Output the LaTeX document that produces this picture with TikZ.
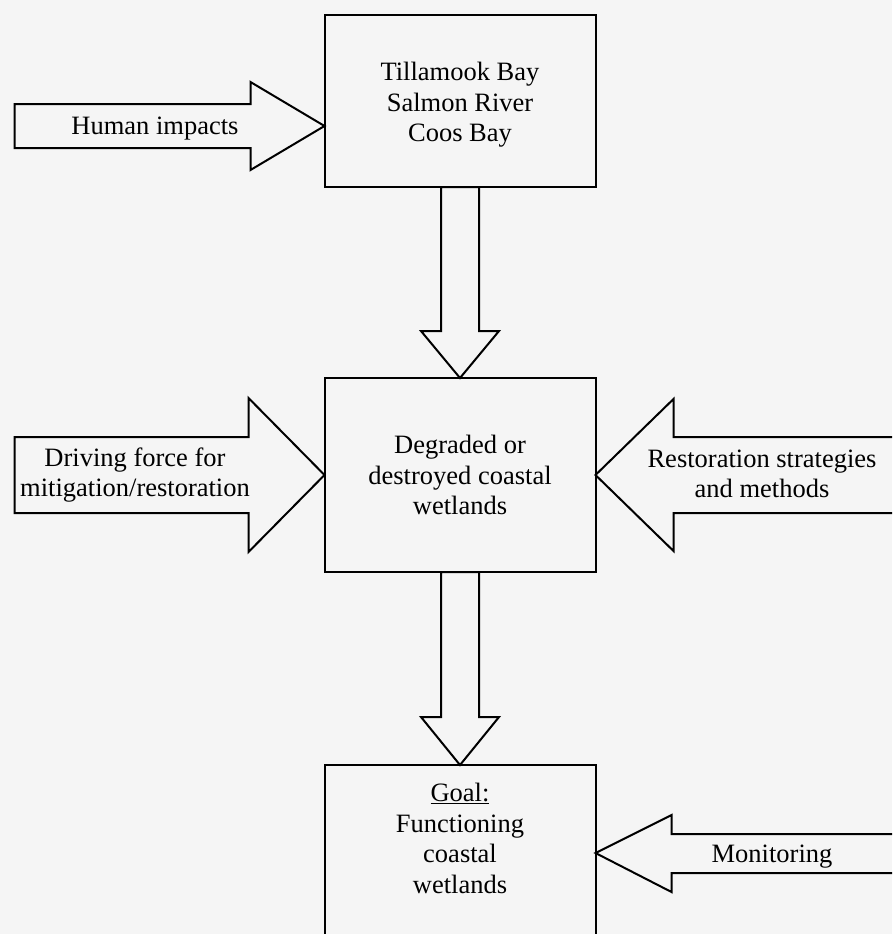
\documentclass[tikz,border=0pt]{standalone}
\usepackage{fontspec}
\setmainfont{Liberation Serif}
\usetikzlibrary{positioning,calc}

\begin{document}
\begin{tikzpicture}[
  x=1pt, y=-1pt,
  font=\fontsize{26.5}{30.5}\selectfont,
  box/.style={draw=black, line width=2pt, minimum width=271pt,
    align=center, inner sep=0pt, outer sep=0pt},
  fat/.style={draw=black, line width=2pt, line join=miter},
  lbl/.style={align=center, inner sep=0pt}
]
\useasboundingbox (0,0) rectangle (892,934);
\fill[black!4] (0,0) rectangle (892,934);
\clip (0,0) rectangle (892,934);
\node[box, minimum height=172pt] (site) at (460,101) {};
\node[lbl] (sitetxt) at ($(site.center)+(0,4)$) {Tillamook Bay\\Salmon River\\Coos Bay};
\node[box, minimum height=194pt, below=191pt of site] (deg) {Degraded or\\destroyed coastal\\wetlands};
\node[box, minimum height=230pt, below=193pt of deg] (goal) {};
\node[lbl, anchor=north] (goaltxt) at ($(goal.north)+(0,18)$) {\underline{Goal:}\\Functioning\\coastal\\wetlands};
\node[lbl] (human) at (155,129) {Human impacts};
\node[lbl] (drive) at (135,475) {Driving force for\\mitigation/restoration};
\node[lbl] (restore) at (762,474) {Restoration strategies\\and methods};
\node[lbl] (monitor) at (772,857) {Monitoring};
\draw[fat] (deg.north) -- ++(-39,-47) -- ++(20,0) -- ($(site.south)+(-19,0)$) -- ++(38,0) -- ($(deg.north)+(19,-47)$) -- ++(20,0) -- cycle;
\draw[fat] (goal.north) -- ++(-39,-48) -- ++(20,0) -- ($(deg.south)+(-19,0)$) -- ++(38,0) -- ($(goal.north)+(19,-48)$) -- ++(20,0) -- cycle;
\draw[fat] ($(site.west)+(0,25)$) -- ++(-74,-44) -- ++(0,22) -- ++(-236,0) -- ++(0,44) -- ++(236,0) -- ++(0,22) -- cycle;
\draw[fat] (deg.west) -- ++(-76,-77) -- ++(0,39) -- ++(-234,0) -- ++(0,76) -- ++(234,0) -- ++(0,39) -- cycle;
\draw[fat] (deg.east) -- ++(78,-76) -- ++(0,38) -- ++(260,0) -- ++(0,76) -- ++(-260,0) -- ++(0,38) -- cycle;
\draw[fat] ($(goal.north east)+(0,88)$) -- ++(76,-38) -- ++(0,19) -- ++(260,0) -- ++(0,39) -- ++(-260,0) -- ++(0,19) -- cycle;
\end{tikzpicture}
\end{document}
